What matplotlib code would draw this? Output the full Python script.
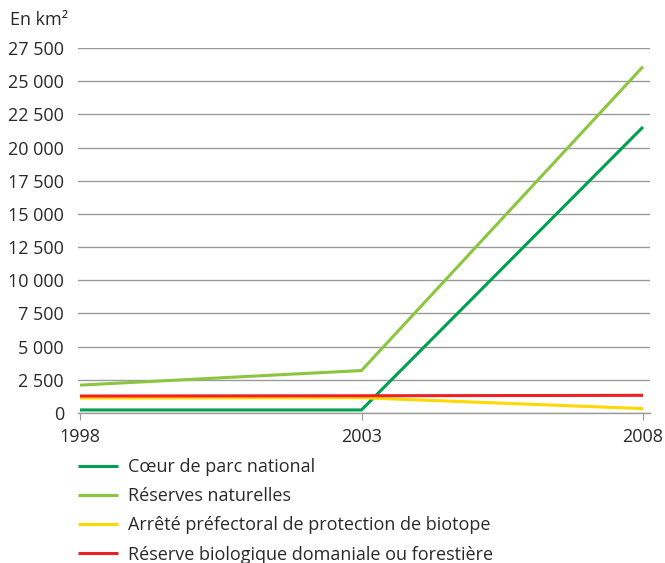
import matplotlib
matplotlib.use("Agg")
import matplotlib.pyplot as plt
from matplotlib.ticker import FuncFormatter

years = [1998, 2003, 2008]
coeur = [230, 230, 21550]
reserves = [2100, 3200, 26100]
arrete = [1130, 1150, 330]
rbdf = [1280, 1300, 1330]
labels = ["Cœur de parc national", "Réserves naturelles",
          "Arrêté préfectoral de protection de biotope",
          "Réserve biologique domaniale ou forestière"]
colors = ["#00a050", "#8cc63f", "#ffd800", "#ee2024"]
yticks = list(range(0, 27501, 2500))

plt.rcParams['font.family'] = ['Open Sans', 'DejaVu Sans']
fig = plt.figure(figsize=(6.65, 5.63), dpi=100)
ax = fig.add_axes([78/665, 1-413/563, (650-78)/665, (413-48)/563])

for vals, c, lab in zip([coeur, reserves, arrete, rbdf], colors, labels):
    ax.plot(years, vals, color=c, lw=2.2, label=lab, solid_capstyle='butt', zorder=3)

ax.set_xlim(1998 - 2/56.3, 2008 + 7/56.3)
ax.set_ylim(0, 27500)
ax.set_yticks(yticks)
ax.yaxis.set_major_formatter(FuncFormatter(lambda v, p: f"{int(v):,}".replace(",", " ")))
ax.set_xticks(years)
ax.grid(axis='y', color='#9a9a9a', lw=1)
for s in ['top', 'right', 'left']:
    ax.spines[s].set_visible(False)
ax.spines['bottom'].set_color('#9a9a9a')
ax.spines['bottom'].set_linewidth(1)
ax.tick_params(axis='y', length=0, pad=10, labelsize=13, labelcolor='#2a2a2a')
ax.tick_params(axis='x', length=5, color='#9a9a9a', pad=6, labelsize=13, labelcolor='#2a2a2a')

fig.text(10/665, 1-20/563, "En km²", fontsize=13, color='#2a2a2a', va='center', ha='left')

leg = fig.legend(loc='upper left', bbox_to_anchor=(78/665, 1-458/563), frameon=False,
                 fontsize=13, handlelength=2.2, handletextpad=0.55, labelspacing=0.62,
                 borderaxespad=0, borderpad=0)
for t in leg.get_texts():
    t.set_color('#2a2a2a')

fig.savefig("out.png", dpi=100)
